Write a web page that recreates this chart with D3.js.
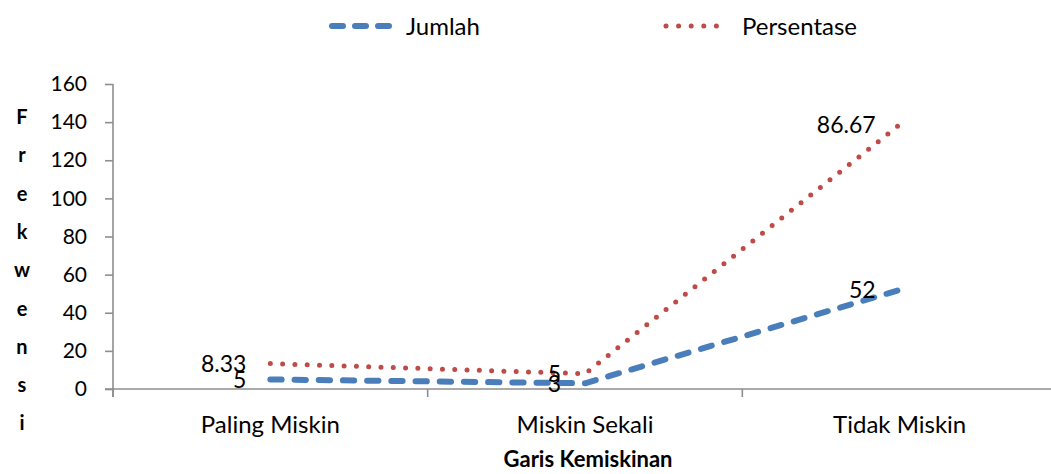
<!DOCTYPE html>
<html>
<head>
<meta charset="utf-8">
<script src="https://cdn.jsdelivr.net/npm/d3@7"></script>
<style>
  html, body { margin: 0; padding: 0; background: #fff; }
  svg { display: block; }
  text { font-family: Lato, "Open Sans", sans-serif; fill: #000; }
</style>
</head>
<body>
<svg id="chart" width="1051" height="474"></svg>
<script>
// Categories along the poverty line
const categories = ["Paling Miskin", "Miskin Sekali", "Tidak Miskin"];
// Series values (stacked: Persentase sits on top of Jumlah)
const jumlah = [5, 3, 52];
const persentase = [8.33, 5, 86.67];
const seriesNames = ["Jumlah", "Persentase"];
const yTicks = [0, 20, 40, 60, 80, 100, 120, 140, 160];
const yTitle = "Frekwensi";
const xTitle = "Garis Kemiskinan";

const colors = { Jumlah: "#4A7EBB", Persentase: "#BE4B48" };
const dashes = { Jumlah: "11.3 12.9", Persentase: "0 12.3" };
const widths = { Jumlah: 6, Persentase: 5 };

const svg = d3.select("#chart");
const W = 1051, H = 474;

const rows = categories.map((c, i) => ({ cat: c, Jumlah: jumlah[i], Persentase: persentase[i] }));
const stacked = d3.stack().keys(seriesNames)(rows);

const x = d3.scaleBand().domain(categories).range([113, 1057]).paddingInner(0).paddingOuter(0);
const y = d3.scaleLinear().domain([0, 160]).range([389, 84]);
const axisColor = "#8E8E8E";

// Y axis
const yAxis = svg.append("g").attr("transform", "translate(113,0)")
  .call(d3.axisLeft(y).tickValues(yTicks).tickSize(8).tickPadding(18).tickFormat(d3.format("d")));
yAxis.select(".domain").attr("stroke", axisColor).attr("stroke-width", 1.6).attr("d", "M0,84V397");
yAxis.selectAll(".tick line").attr("stroke", axisColor).attr("stroke-width", 1.6);
yAxis.selectAll(".tick text").style("font-size", "21px").attr("font-family", "Lato, sans-serif");

// X axis: ticks at category boundaries
const xAxisG = svg.append("g").attr("transform", "translate(0,389)");
xAxisG.append("line").attr("x1", 105).attr("x2", W).attr("y1", 0).attr("y2", 0)
  .attr("stroke", axisColor).attr("stroke-width", 1.6);
const bounds = categories.map(c => x(c)).concat([x(categories[2]) + x.bandwidth()]);
xAxisG.selectAll("line.tk").data(bounds).join("line").attr("class", "tk")
  .attr("x1", d => d).attr("x2", d => d).attr("y1", 0).attr("y2", 8)
  .attr("stroke", axisColor).attr("stroke-width", 1.6);
xAxisG.selectAll("text.cat").data(categories).join("text").attr("class", "cat")
  .attr("x", d => x(d) + x.bandwidth() / 2).attr("y", 35)
  .attr("dy", "0.36em")
  .attr("text-anchor", "middle").style("font-size", "24px").text(d => d);

// Lines
const line = d3.line()
  .x((d, i) => x(categories[i]) + x.bandwidth() / 2)
  .y(d => y(d[1]));
stacked.forEach(s => {
  svg.append("path").datum(s).attr("d", line)
    .attr("fill", "none").attr("stroke", colors[s.key])
    .attr("stroke-width", widths[s.key]).attr("stroke-dasharray", dashes[s.key])
    .attr("stroke-linecap", "round").attr("stroke-linejoin", "round");
});

// Data labels to the left of each point
stacked.forEach(s => {
  svg.selectAll(null).data(s).join("text")
    .attr("x", (d, i) => x(categories[i]) + x.bandwidth() / 2 - 24)
    .attr("y", d => y(d[1]))
    .attr("dy", "0.36em")
    .attr("text-anchor", "end").style("font-size", "23px")
    .text(d => d.data[s.key]);
});

// Y title: letters stacked vertically
const letters = yTitle.split("");
svg.selectAll("text.yt").data(letters).join("text").attr("class", "yt")
  .attr("x", 22).attr("y", (d, i) => 124 + i * 38.3)
  .attr("text-anchor", "middle").style("font-size", "20px").style("font-weight", "bold")
  .text(d => d);

// X title
svg.append("text").attr("x", 588).attr("y", 467)
  .attr("text-anchor", "middle").style("font-size", "22px").style("font-weight", "bold")
  .text(xTitle);

// Legend
const legendItems = [
  { key: "Jumlah", x1: 332, x2: 391, tx: 406, dash: "11 12" },
  { key: "Persentase", x1: 666, x2: 729, tx: 742, dash: "0 12.6" }
];
legendItems.forEach(it => {
  svg.append("line").attr("x1", it.x1).attr("x2", it.x2).attr("y1", 26).attr("y2", 26)
    .attr("stroke", colors[it.key]).attr("stroke-width", widths[it.key])
    .attr("stroke-dasharray", it.dash)
    .attr("stroke-linecap", "round");
  svg.append("text").attr("x", it.tx).attr("y", 26).attr("dy", "0.36em")
    .style("font-size", "24px").text(it.key);
});
</script>
</body>
</html>
